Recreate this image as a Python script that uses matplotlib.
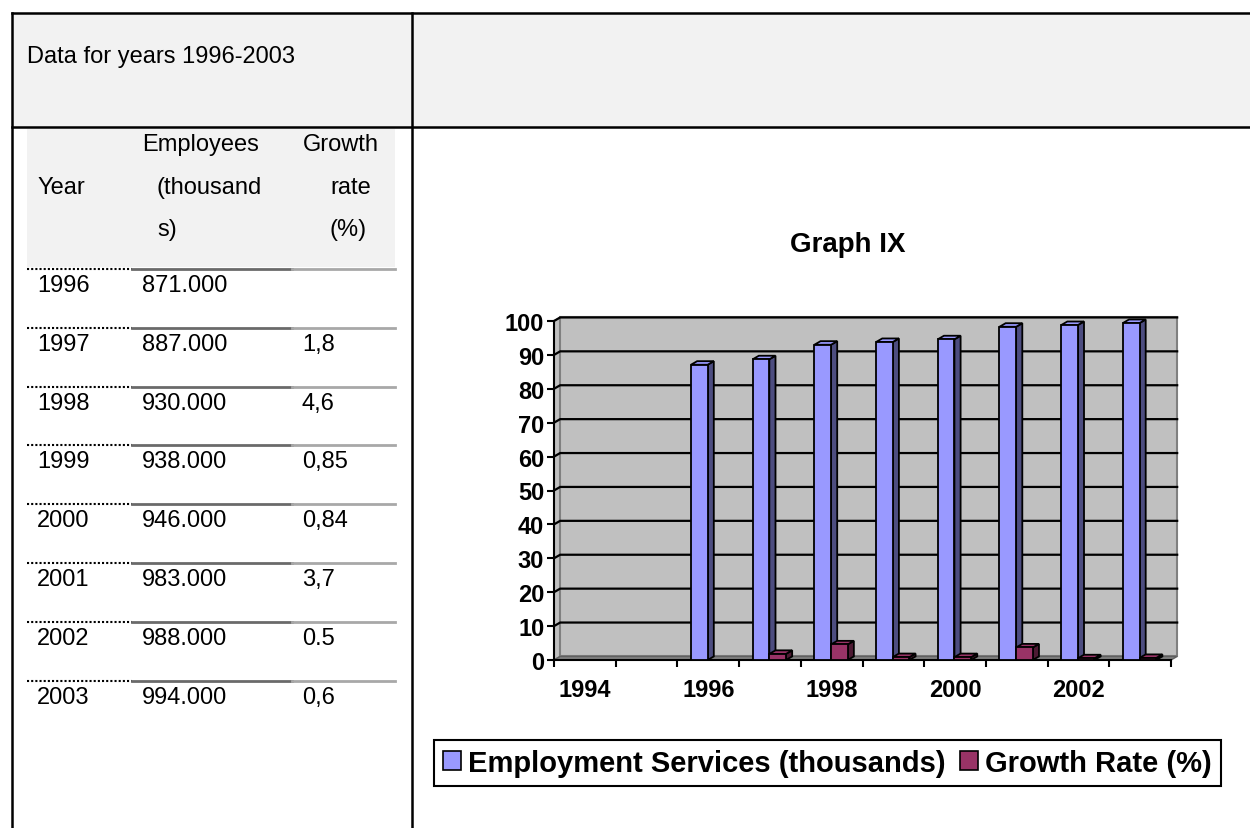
import numpy as np
import matplotlib
matplotlib.use("Agg")
import matplotlib.pyplot as plt
from matplotlib.patches import Rectangle, Polygon, Patch

plt.rcParams['font.family'] = ['Liberation Sans', 'DejaVu Sans']

# table data
table_years = ['1996', '1997', '1998', '1999', '2000', '2001', '2002', '2003']
table_employees = ['871.000', '887.000', '930.000', '938.000', '946.000', '983.000', '988.000', '994.000']
table_growth = ['', '1,8', '4,6', '0,85', '0,84', '3,7', '0.5', '0,6']

# chart data (1994..2003, employees in 10 000s)
chart_years = [1994, 1995, 1996, 1997, 1998, 1999, 2000, 2001, 2002, 2003]
employment = [np.nan, np.nan, 87.1, 88.7, 93.0, 93.8, 94.6, 98.3, 98.8, 99.4]
growth = [np.nan, np.nan, np.nan, 1.8, 4.6, 0.85, 0.84, 3.7, 0.5, 0.6]
year_labels = ['1994', '1996', '1998', '2000', '2002']
y_ticks = [0, 10, 20, 30, 40, 50, 60, 70, 80, 90, 100]

W, H = 1250, 829
fig = plt.figure(figsize=(W / 100, H / 100), dpi=100)

# ---- page / table layer, pixel coordinates ----
bg = fig.add_axes([0, 0, 1, 1])
bg.set_xlim(0, W)
bg.set_ylim(H, 0)
bg.axis('off')

bg.add_patch(Rectangle((12, 14), W - 12, 114, facecolor='#f2f2f2', edgecolor='none'))
bg.add_patch(Rectangle((27, 130), 368, 138, facecolor='#f2f2f2', edgecolor='none'))
bg.plot([12, W], [14, 14], color='black', lw=1.8)
bg.plot([12, W], [128, 128], color='black', lw=1.8)
bg.plot([12, 12], [14, H], color='black', lw=1.8)
bg.plot([412, 412], [14, H], color='black', lw=1.8)

bg.text(27, 57, 'Data for years 1996-2003', fontsize=17, va='center', ha='left')

hdr = dict(fontsize=17, va='center', ha='left')
bg.text(142, 145, 'Employees', **hdr)
bg.text(37, 188, 'Year', **hdr)
bg.text(157, 188, '(thousand', **hdr)
bg.text(157, 230, 's)', **hdr)
bg.text(379, 145, 'Growth', fontsize=17, va='center', ha='right')
bg.text(371, 188, 'rate', fontsize=17, va='center', ha='right')
bg.text(367, 230, '(%)', fontsize=17, va='center', ha='right')

row_h = 58.8
for r, (yr, emp, gr) in enumerate(zip(table_years, table_employees, table_growth)):
    y0 = 270 + row_h * r
    bg.plot([27, 132], [y0, y0], color='black', lw=1.5, ls=(0, (1, 1)))
    bg.plot([132, 292], [y0, y0], color='#6a6a6a', lw=2)
    bg.plot([292, 395], [y0, y0], color='#a8a8a8', lw=2)
    bg.text(37, y0 + 16, yr, **hdr)
    bg.text(142, y0 + 16, emp, **hdr)
    bg.text(302, y0 + 16, gr, **hdr)

# ---- chart ----
x0, x1, yb, yt = 554, 1171, 661, 322
ax = fig.add_axes([x0 / W, 1 - yb / H, (x1 - x0) / W, (yb - yt) / H])
ax.set_xlim(0, len(chart_years))
ax.set_ylim(0, 100)
ax.patch.set_visible(False)

dx, dy = 0.1, 1.05  # 3d depth in data units
n = len(chart_years)
# side wall, back wall, floor
ax.add_patch(Polygon([(0, 0), (dx, dy), (dx, 100 + dy), (0, 100)], closed=True,
                     facecolor='#c0c0c0', edgecolor='#808080', lw=1.2, clip_on=False, zorder=0))
ax.add_patch(Rectangle((dx, dy), n, 100, facecolor='#c0c0c0', edgecolor='#808080',
                       lw=1.5, clip_on=False, zorder=0))
ax.add_patch(Polygon([(0, 0), (n, 0), (n + dx, dy), (dx, dy)], closed=True,
                     facecolor='#808080', edgecolor='#606060', lw=1, clip_on=False, zorder=0.5))
for v in y_ticks[1:]:
    ax.plot([0, dx, n + dx], [v, v + dy, v + dy], color='black', lw=1.6, clip_on=False, zorder=1)

def bar3d(xs, hs, left_off, w, front, side, z):
    xs = np.asarray(xs, float)
    hs = np.asarray(hs, float)
    ok = ~np.isnan(hs)
    for x, h in zip(xs[ok], hs[ok]):
        l = x + left_off
        ax.add_patch(Polygon([(l + w, 0), (l + w + dx, dy), (l + w + dx, h + dy), (l + w, h)],
                             closed=True, facecolor=side, edgecolor='black', lw=1.3,
                             clip_on=False, zorder=z))
        ax.add_patch(Polygon([(l, h), (l + dx, h + dy), (l + w + dx, h + dy), (l + w, h)],
                             closed=True, facecolor=front, edgecolor='black', lw=1.3,
                             clip_on=False, zorder=z))
    ax.bar(xs[ok] + left_off, hs[ok], width=w, align='edge', color=front,
           edgecolor='black', lw=1.3, zorder=z, clip_on=False)

idx = np.arange(n)
bw = 0.27
bar3d(idx, employment, 0.22, bw, '#9999ff', '#4d4d80', 3)
bar3d(idx, growth, 0.22 + bw, bw, '#993366', '#4d1a33', 4)

for s in ['top', 'right']:
    ax.spines[s].set_visible(False)
for s in ['left', 'bottom']:
    ax.spines[s].set_linewidth(1.5)
    ax.spines[s].set_zorder(2)
ax.set_yticks(y_ticks)
ax.set_yticklabels([str(v) for v in y_ticks], fontsize=17, fontweight='bold')
ax.tick_params(axis='y', direction='out', length=5, width=1.5, pad=2)
ax.set_xticks(np.arange(n + 1))
ax.set_xticklabels([])
ax.tick_params(axis='x', which='major', direction='out', length=5, width=1.5)
ax.set_xticks(np.arange(0, n, 2) + 0.5, minor=True)
ax.set_xticklabels(year_labels, minor=True, fontsize=17, fontweight='bold')
ax.tick_params(axis='x', which='minor', length=0, pad=13)

fig.text(848 / W, 1 - 245 / H, 'Graph IX', fontsize=20, fontweight='bold', ha='center', va='center')

handles = [Patch(facecolor='#9999ff', edgecolor='black', lw=1.2),
           Patch(facecolor='#993366', edgecolor='black', lw=1.2)]
leg = fig.legend(handles, ['Employment Services (thousands)', 'Growth Rate (%)'],
                 loc='center', bbox_to_anchor=((433 + 1222) / 2 / W, 1 - 764 / H), ncol=2,
                 fancybox=False, frameon=True, edgecolor='black', framealpha=1,
                 prop={'size': 21, 'weight': 'bold'}, handlelength=0.6, handleheight=0.6,
                 handletextpad=0.25, columnspacing=0.5, borderpad=0.3, borderaxespad=0)
leg.get_frame().set_linewidth(1.5)

fig.savefig('out.png', dpi=100)
